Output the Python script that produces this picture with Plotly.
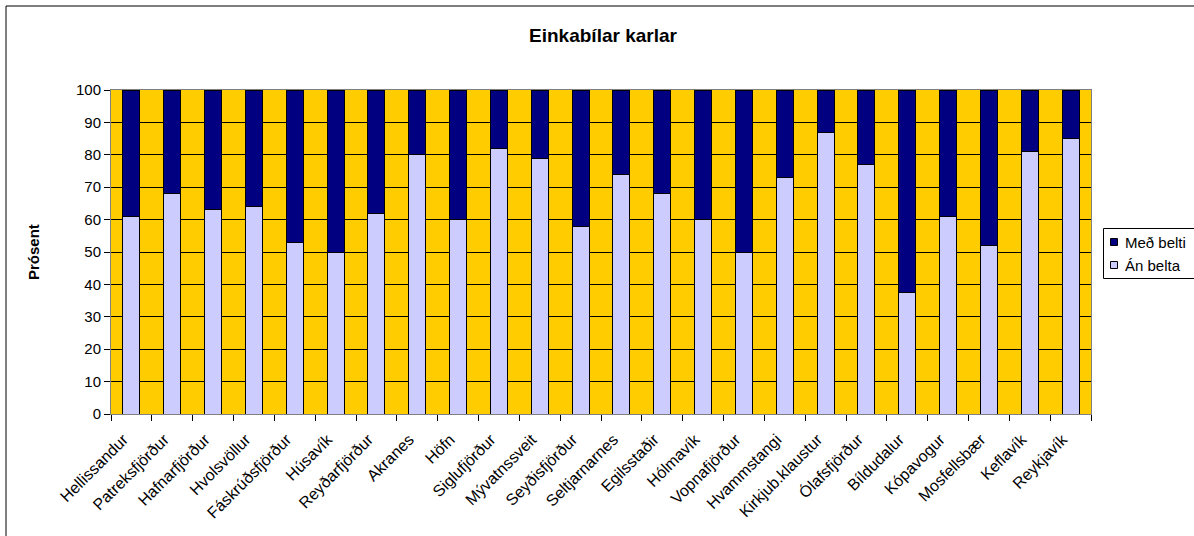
import plotly.graph_objects as go

categories = ["Hellissandur", "Patreksfjörður", "Hafnarfjörður", "Hvolsvöllur",
              "Fáskrúðsfjörður", "Húsavík", "Reyðarfjörður", "Akranes", "Höfn",
              "Siglufjörður", "Mývatnssveit", "Seyðisfjörður", "Seltjarnarnes",
              "Egilsstaðir", "Hólmavík", "Vopnafjörður", "Hvammstangi",
              "Kirkjub.klaustur", "Ólafsfjörður", "Bíldudalur", "Kópavogur",
              "Mosfellsbær", "Keflavík", "Reykjavík"]
an_belta = [61, 68, 63, 64, 53, 50, 62, 80, 60, 82, 79, 58, 74, 68, 60, 50, 73,
            87, 77, 37.5, 61, 52, 81, 85]
med_belti = [100 - v for v in an_belta]
series_names = ["Með belti", "Án belta"]
series_colors = ["#000080", "#CCCCFF"]

W, H = 1194, 536
ml, mr, mt, mb = 111, W - 1091, 90, H - 414
pw = W - ml - mr
ph = H - mt - mb


def px2x(p):
    return (p - ml) / pw


def px2y(p):
    return (H - mb - p) / ph


font_family = "Liberation Sans, Arial, sans-serif"

fig = go.Figure()
fig.add_trace(go.Bar(x=categories, y=an_belta, name=series_names[1],
                     marker=dict(color=series_colors[1], line=dict(color="black", width=1))))
fig.add_trace(go.Bar(x=categories, y=med_belti, name=series_names[0],
                     marker=dict(color=series_colors[0], line=dict(color="black", width=1))))

shapes = [
    # outer chart border
    dict(type="rect", xref="paper", yref="paper",
         x0=px2x(6), x1=px2x(1230), y0=px2y(580), y1=px2y(6),
         line=dict(color="black", width=1), fillcolor="rgba(0,0,0,0)", layer="below"),
    # legend box
    dict(type="rect", xref="paper", yref="paper",
         x0=px2x(1103.5), x1=px2x(1230), y0=px2y(278.5), y1=px2y(228.5),
         line=dict(color="black", width=1), fillcolor="white"),
]
annotations = [
    dict(text="<b>Prósent</b>", xref="paper", yref="paper", x=px2x(33), y=px2y(252),
         xanchor="center", yanchor="middle", textangle=-90, showarrow=False,
         font=dict(size=15, family=font_family, color="black")),
]
legend_rows = [242, 265]
for name, color, yc in zip(series_names, series_colors, legend_rows):
    shapes.append(dict(type="rect", xref="paper", yref="paper",
                       x0=px2x(1110.5), x1=px2x(1117.5), y0=px2y(yc + 3.5), y1=px2y(yc - 3.5),
                       line=dict(color="black", width=1), fillcolor=color))
    annotations.append(dict(text=name, xref="paper", yref="paper", x=px2x(1123),
                            y=px2y(yc), xanchor="left", yanchor="middle",
                            showarrow=False,
                            font=dict(size=15, family=font_family, color="black")))

fig.update_layout(
    width=W, height=H,
    margin=dict(l=ml, r=mr, t=mt, b=mb, autoexpand=False),
    barmode="stack",
    bargap=0.58,
    showlegend=False,
    paper_bgcolor="white",
    plot_bgcolor="#FFCC00",
    font=dict(family=font_family, size=15, color="black"),
    title=dict(text="<b>Einkabílar karlar</b>", x=603 / W, xanchor="center",
               y=1 - 35 / H, yanchor="middle",
               font=dict(size=19, family=font_family, color="black")),
    xaxis=dict(tickangle=-45, ticks="outside", ticklen=6, tickcolor="black",
               tickson="boundaries", showgrid=False, showline=True,
               linecolor="#808080", linewidth=1, mirror=True,
               automargin=False, ticklabelstandoff=9, ticklabelshift=-8,
               tickfont=dict(size=16, family=font_family)),
    yaxis=dict(range=[0, 100], dtick=10, ticks="outside", ticklen=6,
               tickcolor="black", showgrid=True, gridcolor="black", gridwidth=1,
               showline=True, linecolor="#808080", linewidth=1, mirror=True,
               zeroline=False, automargin=False,
               tickfont=dict(size=15, family=font_family)),
    shapes=shapes,
    annotations=annotations,
)

fig.write_html("out.html", config={"displayModeBar": False},
               post_script="document.body.style.margin='0';")
